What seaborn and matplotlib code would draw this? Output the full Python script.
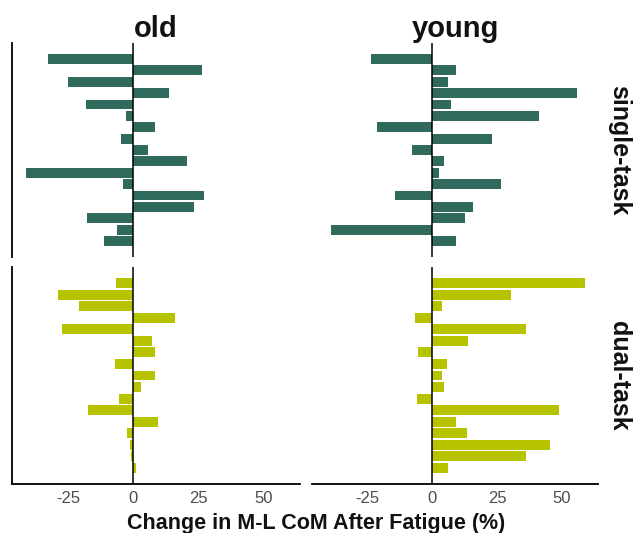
import matplotlib
matplotlib.use("Agg")
import matplotlib.pyplot as plt
import seaborn as sns
import pandas as pd
import numpy as np

sns.set_theme(style="white")
plt.rcParams["font.family"] = ["Liberation Sans", "DejaVu Sans"]
plt.rcParams["axes.unicode_minus"] = False
plt.rcParams["text.color"] = "#111111"

# Percent change in medio-lateral CoM after fatigue, one bar per participant
old_single = [-32.7, 26.4, -25.1, 13.7, -18.2, -2.8, 8.3, -4.5, 5.6, 20.6,
              -41.0, -4.1, 27.0, 23.2, -17.7, -6.2, -11.2]
young_single = [-23.8, 9.1, 6.0, 56.0, 7.1, 41.3, -21.4, 23.1, -7.9, 4.6,
                2.7, 26.7, -14.5, 15.6, 12.7, -39.2, 9.1]
old_dual = [-6.5, -28.7, -20.8, 16.0, -27.4, 7.4, 8.3, -6.9, 8.2, 2.9,
            -5.5, -17.2, 9.4, -2.2, -1.3, -0.8, 1.0]
young_dual = [59.1, 30.5, 3.6, -6.7, 36.2, 13.6, -5.6, 5.5, 3.6, 4.4,
              -6.0, 48.8, 9.2, 13.2, 45.5, 36.0, 5.9]

groups = ["old", "young"]
tasks = ["single-task", "dual-task"]
task_colors = {"single-task": "#2F6A5D", "dual-task": "#B8C300"}
x_ticks = [-25, 0, 25, 50]

panels = {
    ("single-task", "old"): old_single,
    ("single-task", "young"): young_single,
    ("dual-task", "old"): old_dual,
    ("dual-task", "young"): young_dual,
}

rows = []
for (task, group), vals in panels.items():
    for i, v in enumerate(vals):
        rows.append({"task": task, "group": group, "subject": i, "change": v})
df = pd.DataFrame(rows)

W, H = 633, 533
fig = plt.figure(figsize=(W / 100, H / 100), dpi=100)

col_x = {"old": (12, 300), "young": (312, 598)}
row_y = {"single-task": (43, 257), "dual-task": (267, 484)}

for task in tasks:
    for group in groups:
        x0, x1 = col_x[group]
        y0, y1 = row_y[task]
        ax = fig.add_axes([x0 / W, 1 - y1 / H, (x1 - x0) / W, (y1 - y0) / H])
        sub = df[(df.task == task) & (df.group == group)]
        sns.barplot(data=sub, x="change", y="subject", orient="h",
                    color=task_colors[task], saturation=1, width=0.86,
                    linewidth=0, ax=ax, order=range(17))
        ax.axvline(0, color="black", lw=1.1, zorder=5)
        ax.set_xlim(-46.5, 64)
        ax.set_ylim(17.4, -1.4)
        ax.set_xlabel("")
        ax.set_ylabel("")
        ax.set_yticks([])
        for s in ax.spines.values():
            s.set_visible(False)
        if group == "old":
            ax.spines["left"].set_visible(True)
            ax.spines["left"].set_color("black")
            ax.spines["left"].set_linewidth(1.3)
        if task == "dual-task":
            ax.spines["bottom"].set_visible(True)
            ax.spines["bottom"].set_color("black")
            ax.spines["bottom"].set_linewidth(1.3)
            ax.set_xticks(x_ticks)
            ax.set_xticklabels([str(t) for t in x_ticks], fontsize=12,
                               color="#4D4D4D")
            ax.tick_params(axis="x", length=0, pad=5)
        else:
            ax.set_xticks([])
        if task == "single-task":
            ax.set_title(group, fontsize=21, fontweight="bold", pad=4)
        if group == "young":
            ax.text(1.075, 0.5, task, transform=ax.transAxes, rotation=-90,
                    fontsize=18, fontweight="bold", ha="center", va="center")

fig.text(316 / W, 1 - 523 / H, "Change in M-L CoM After Fatigue (%)",
         ha="center", va="center", fontsize=15.5, fontweight="bold")

fig.savefig("out.png", dpi=100)
